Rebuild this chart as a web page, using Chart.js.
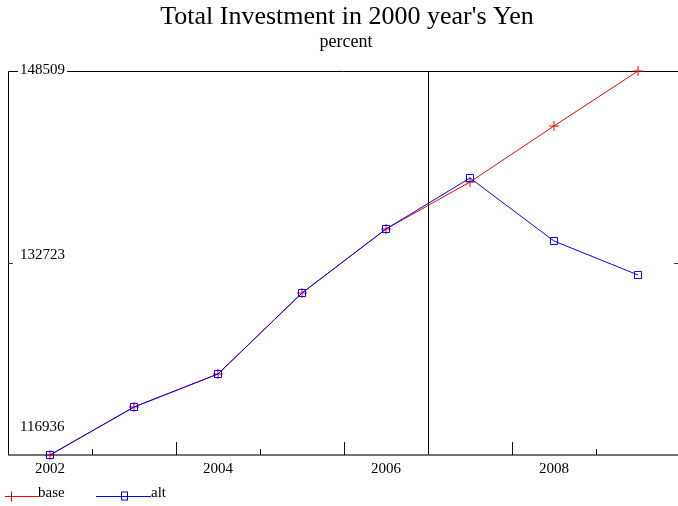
<!DOCTYPE html>
<html>
<head>
<meta charset="utf-8">
<title>Total Investment in 2000 year's Yen</title>
<script src="https://cdn.jsdelivr.net/npm/chart.js@4"></script>
<style>
  body { margin: 0; background: #fff; }
  #wrap { width: 678px; height: 506px; }
</style>
</head>
<body>
<div id="wrap"><canvas id="investment-chart" width="678" height="506"></canvas></div>
<script>
// Years on the horizontal axis
const years = [2002, 2003, 2004, 2005, 2006, 2007, 2008, 2009];

// Series values (2000 year's Yen)
const baseValues = [116936, 120883, 123596, 130256, 135518, 139382, 143986, 148509];
const altValues = [116936, 120883, 123596, 130256, 135518, 139711, 134531, 131736];

// Axis labels
const yTickValues = [148509, 132723, 116936];
const xTickLabels = [2002, 2004, 2006, 2008];
const xMinorTicks = [2002.5, 2004.5, 2008.5];
const xMajorTicks = [2003.5, 2005.5, 2007.5];
const splitYear = 2006.5;

const serif = '"Liberation Serif", "Times New Roman", serif';

function toPoints(values) {
    return years.map((y, i) => ({ x: y, y: values[i] }));
}

// Frame, ticks, labels and the split line drawn from the chart scales
const framePlugin = {
    id: 'frame',
    beforeDatasetsDraw(chart) {
        const ctx = chart.ctx;
        const xs = chart.scales.x;
        const ys = chart.scales.y;
        const area = chart.chartArea;
        ctx.save();

        // top and left border
        ctx.strokeStyle = '#000';
        ctx.lineWidth = 1;
        ctx.beginPath();
        ctx.moveTo(area.left + 0.5, area.bottom);
        ctx.lineTo(area.left + 0.5, area.top + 0.5);
        ctx.lineTo(area.right, area.top + 0.5);
        ctx.stroke();

        // split line
        const sx = Math.round(xs.getPixelForValue(splitYear)) + 0.5;
        ctx.beginPath();
        ctx.moveTo(sx, area.top);
        ctx.lineTo(sx, area.bottom);
        ctx.stroke();

        // bottom axis
        ctx.strokeStyle = '#444';
        ctx.lineWidth = 1.5;
        ctx.beginPath();
        ctx.moveTo(area.left, area.bottom);
        ctx.lineTo(area.right, area.bottom);
        ctx.stroke();

        ctx.strokeStyle = '#111';
        ctx.lineWidth = 1;
        xMinorTicks.forEach(v => {
            const px = Math.round(xs.getPixelForValue(v)) + 0.5;
            ctx.beginPath();
            ctx.moveTo(px, area.bottom);
            ctx.lineTo(px, area.bottom - 6);
            ctx.stroke();
        });
        xMajorTicks.forEach(v => {
            const px = Math.round(xs.getPixelForValue(v)) + 0.5;
            ctx.beginPath();
            ctx.moveTo(px, area.bottom);
            ctx.lineTo(px, area.bottom - 13);
            ctx.stroke();
        });

        // middle y tick on both sides
        const my = Math.round(ys.getPixelForValue(yTickValues[1])) + 0.5;
        ctx.strokeStyle = '#333';
        ctx.beginPath();
        ctx.moveTo(area.left, my);
        ctx.lineTo(area.left + 5, my);
        ctx.moveTo(area.right - 4, my);
        ctx.lineTo(area.right, my);
        ctx.stroke();

        // y labels sit inside the plot, just above their values
        ctx.font = '15px ' + serif;
        ctx.textAlign = 'left';
        ctx.textBaseline = 'middle';
        const labelOffsets = [-1, -8, -28];
        yTickValues.forEach((v, i) => {
            const py = ys.getPixelForValue(v) + labelOffsets[i];
            const text = String(v);
            const w = ctx.measureText(text).width;
            ctx.fillStyle = '#fff';
            ctx.fillRect(18, py - 6, w + 4, 12);
            ctx.fillStyle = '#000';
            ctx.fillText(text, 20, py);
        });

        // x labels
        ctx.textAlign = 'center';
        xTickLabels.forEach(v => {
            ctx.fillText(String(v), xs.getPixelForValue(v), area.bottom + 14);
        });
        ctx.restore();
    },
    afterDraw(chart) {
        const ctx = chart.ctx;
        ctx.save();
        ctx.fillStyle = '#000';
        ctx.textAlign = 'center';
        ctx.textBaseline = 'alphabetic';
        ctx.font = '26px ' + serif;
        ctx.fillText("Total Investment in 2000 year's Yen", 347, 24);
        ctx.font = '18px ' + serif;
        ctx.fillText('percent', 346, 47);

        // legend: line sample with marker, then name
        const ly = 496.5;
        ctx.lineWidth = 1;
        ctx.strokeStyle = '#ff0000';
        ctx.beginPath();
        ctx.moveTo(5, ly);
        ctx.lineTo(39, ly);
        ctx.moveTo(11.5, ly - 5);
        ctx.lineTo(11.5, ly + 5);
        ctx.moveTo(7, ly);
        ctx.lineTo(16, ly);
        ctx.stroke();

        ctx.strokeStyle = '#0000ff';
        ctx.beginPath();
        ctx.moveTo(96, ly);
        ctx.lineTo(151, ly);
        ctx.stroke();
        ctx.strokeRect(121.5, ly - 4.5, 6, 8);

        ctx.font = '15px ' + serif;
        ctx.textAlign = 'left';
        ctx.textBaseline = 'middle';
        ctx.fillText('base', 38, 493);
        ctx.fillText('alt', 151, 493);
        ctx.restore();
    }
};

document.addEventListener('DOMContentLoaded', function() {
    const ctx = document.getElementById('investment-chart').getContext('2d');
    new Chart(ctx, {
        type: 'line',
        data: {
            datasets: [
                {
                    label: 'base',
                    data: toPoints(baseValues),
                    borderColor: '#ff0000',
                    backgroundColor: 'rgba(0,0,0,0)',
                    borderWidth: 1,
                    pointStyle: 'cross',
                    pointRadius: 5,
                    pointBorderWidth: 1,
                    pointBorderColor: '#ff0000',
                    tension: 0,
                    order: 1
                },
                {
                    label: 'alt',
                    data: toPoints(altValues),
                    borderColor: '#0000ff',
                    backgroundColor: 'rgba(0,0,0,0)',
                    borderWidth: 1,
                    pointStyle: 'rect',
                    pointRadius: 5,
                    pointBorderWidth: 1,
                    pointBorderColor: '#0000ff',
                    pointBackgroundColor: 'rgba(0,0,0,0)',
                    tension: 0,
                    order: 0
                }
            ]
        },
        options: {
            responsive: false,
            animation: false,
            clip: false,
            layout: { autoPadding: false, padding: { left: 8, right: 0, top: 71, bottom: 51 } },
            scales: {
                x: { type: 'linear', min: 2001.5, max: 2009.476, display: false },
                y: { min: 116936, max: 148509, display: false }
            },
            plugins: {
                legend: { display: false },
                tooltip: { enabled: false }
            }
        },
        plugins: [framePlugin]
    });
});
</script>
</body>
</html>
